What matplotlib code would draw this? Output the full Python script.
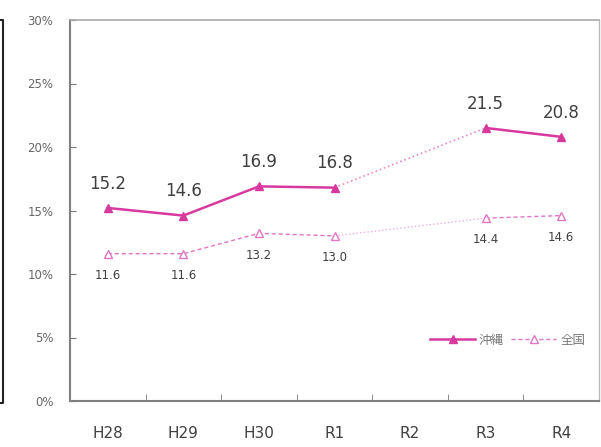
import numpy as np
import matplotlib.pyplot as plt
from matplotlib.lines import Line2D

plt.rcParams['font.family'] = ['Noto Sans CJK JP', 'DejaVu Sans']

years = ['H28', 'H29', 'H30', 'R1', 'R2', 'R3', 'R4']
okinawa = [15.2, 14.6, 16.9, 16.8, np.nan, 21.5, 20.8]
zenkoku = [11.6, 11.6, 13.2, 13.0, np.nan, 14.4, 14.6]

c_oki = '#d8399f'
c_zen = '#e077c4'
txt = '#404040'

fig = plt.figure(figsize=(6.01, 4.47), dpi=100)
ax = fig.add_axes([70 / 601, 46 / 447, 529 / 601, 381 / 447])

x = np.arange(len(years))
oki = np.array(okinawa)
zen = np.array(zenkoku)

# bridge the missing year with a faint dotted segment
gap = np.where(np.isnan(oki))[0][0]
bx = [x[gap - 1], x[gap + 1]]
ax.plot(bx, [oki[gap - 1], oki[gap + 1]], color=c_oki, lw=1.2, ls=':', alpha=0.6)
ax.plot(bx, [zen[gap - 1], zen[gap + 1]], color=c_zen, lw=1.0, ls=':', alpha=0.6)

ax.plot(x, oki, color=c_oki, lw=1.8, marker='^', ms=6, mfc=c_oki, mec=c_oki, label='沖縄')
ax.plot(x, zen, color=c_zen, lw=1.0, ls=(0, (3, 2)), marker='^', ms=6,
        mfc='white', mec=c_zen, mew=1.0, label='全国')

for xi, v in zip(x, oki):
    if not np.isnan(v):
        ax.annotate(f'{v:.1f}', (xi, v), xytext=(0, 11), textcoords='offset points',
                    ha='center', va='bottom', fontsize=12, color=txt, family='DejaVu Sans')
for xi, v in zip(x, zen):
    if not np.isnan(v):
        ax.annotate(f'{v:.1f}', (xi, v), xytext=(0, -11), textcoords='offset points',
                    ha='center', va='top', fontsize=8.5, color=txt, family='DejaVu Sans')

ax.set_xlim(-0.5, len(years) - 0.5)
ax.set_ylim(0, 30)
ax.set_yticks(np.arange(0, 31, 5))
ax.set_yticklabels([f'{t}%' for t in range(0, 31, 5)], fontsize=8.5, color='#666666',
                   family='DejaVu Sans')
ax.set_xticks(x)
ax.set_xticklabels(years, fontsize=11, color=txt, family='DejaVu Sans')
ax.set_xticks(np.arange(0.5, len(years) - 1, 1), minor=True)
ax.tick_params(axis='x', which='major', length=0, pad=18)
ax.tick_params(axis='x', which='minor', direction='in', length=5, color='#777777')
ax.tick_params(axis='y', direction='in', length=4, color='#777777', pad=12)

for s in ax.spines.values():
    s.set_color('#808080')
    s.set_linewidth(1.5)
ax.spines['top'].set_color('#aaaaaa')
ax.spines['top'].set_linewidth(1.2)
ax.spines['right'].set_color('#bbbbbb')
ax.spines['right'].set_linewidth(1.0)

ax.legend(loc='center right', bbox_to_anchor=(0.995, 0.16), frameon=False, ncol=2,
          fontsize=9, handlelength=3.6, columnspacing=0.6, handletextpad=0.3,
          labelcolor='#777777')

# frame edge on the left margin
fig.add_artist(Line2D([0, 3 / 601, 3 / 601, 0], [1 - 20 / 447, 1 - 20 / 447, 1 - 403 / 447, 1 - 403 / 447],
                      transform=fig.transFigure, color='#222222', lw=1.5))

fig.savefig('out.png', dpi=100)
